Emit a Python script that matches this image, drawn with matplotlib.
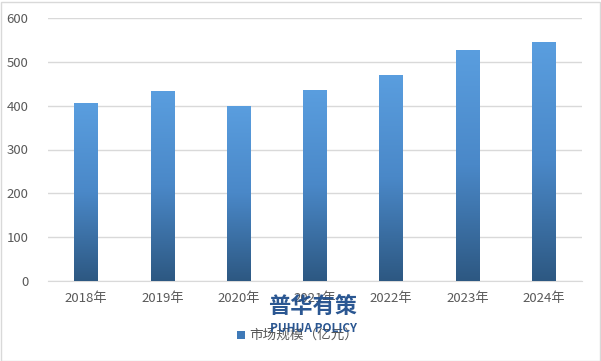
import numpy as np
import matplotlib
matplotlib.use("Agg")
import matplotlib.pyplot as plt
from matplotlib.colors import LinearSegmentedColormap
from matplotlib.patches import Rectangle

plt.rcParams['font.family'] = ['Noto Sans CJK SC', 'DejaVu Sans']

categories = ["2018年", "2019年", "2020年", "2021年", "2022年", "2023年", "2024年"]
values = [406, 434, 400, 436, 470, 527, 545]
series_name = "市场规模（亿元）"
yticks = [0, 100, 200, 300, 400, 500, 600]

fig = plt.figure(figsize=(6.01, 3.61), dpi=100)
ax = fig.add_axes([48/601, 1-281/361, (582-48)/601, (281-18)/361])

cmap = LinearSegmentedColormap.from_list("g", ["#2d5882", "#4a88c8", "#5a9edf"])
grad = np.linspace(0, 1, 256).reshape(-1, 1)
x = np.arange(len(categories))
width = 0.31
bars = ax.bar(x, values, width=width, color="none", edgecolor="none", zorder=3)
for b in bars:
    x0, y0 = b.get_x(), b.get_y()
    w, h = b.get_width(), b.get_height()
    im = ax.imshow(grad, extent=[x0, x0 + w, y0, y0 + h], origin="lower",
                   cmap=cmap, aspect="auto", zorder=3)
    im.set_clip_path(b)

ax.set_xlim(-0.5, len(categories) - 0.5)
ax.set_ylim(0, 600)
ax.set_yticks(yticks)
ax.set_xticks(x)
ax.set_xticklabels(categories)
ax.grid(axis="y", color="#d9d9d9", linewidth=1, zorder=0)
for s in ["top", "right", "left"]:
    ax.spines[s].set_visible(False)
ax.spines["bottom"].set_color("#d9d9d9")
ax.tick_params(axis="both", length=0, colors="#595959", labelsize=9.5)
ax.tick_params(axis="x", pad=8)
ax.tick_params(axis="y", pad=14)

# legend
fig.patches.append(Rectangle((237/601, 1-339/361), 8/601, 8/361, transform=fig.transFigure,
                             facecolor="#3f7ab8", edgecolor="none"))
fig.text(249/601, 1-335/361, series_name, fontsize=9.8, color="#595959", va="center", ha="left")

# watermark
fig.text(313/601, 1-306/361, "普华有策", fontsize=16, fontweight="bold", color="#1f4e8c",
         ha="center", va="center", alpha=0.95)
fig.text(313/601, 1-328/361, "PUHUA POLICY", fontsize=8.5, fontweight="bold", color="#1f4e8c",
         ha="center", va="center", alpha=0.95)

# border
fig.patches.append(Rectangle((0.5/601, 0.5/361), 599/601, 359/361, transform=fig.transFigure,
                             facecolor="none", edgecolor="#d9d9d9", linewidth=1))

fig.savefig("out.png", dpi=100)
